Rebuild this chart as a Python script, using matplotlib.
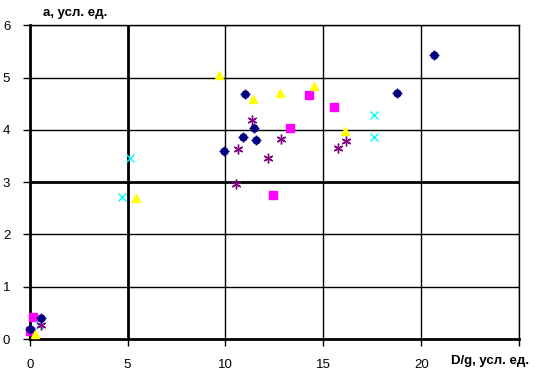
import matplotlib
matplotlib.use("Agg")
import matplotlib.pyplot as plt

plt.rcParams['font.family'] = ['Liberation Sans', 'DejaVu Sans']

# Data
navy_x = [0.02, 0.56, 9.91, 10.88, 11.02, 11.44, 11.56, 18.74, 20.63]
navy_y = [0.19, 0.41, 3.60, 3.86, 4.68, 4.03, 3.80, 4.71, 5.43]

magenta_x = [0.0, 0.15, 12.41, 13.32, 14.27, 15.54]
magenta_y = [0.15, 0.43, 2.75, 4.03, 4.66, 4.43]

yellow_x = [0.27, 5.42, 9.67, 11.41, 12.80, 14.52, 16.09]
yellow_y = [0.09, 2.70, 5.04, 4.60, 4.71, 4.84, 3.98]

cyan_x = [0.49, 4.71, 5.12, 17.58, 17.60]
cyan_y = [0.27, 2.72, 3.46, 4.28, 3.86]

purple_x = [0.58, 10.54, 10.63, 11.38, 12.16, 12.84, 15.73, 16.14]
purple_y = [0.27, 2.96, 3.63, 4.18, 3.47, 3.83, 3.65, 3.79]

x_ticks = [0, 5, 10, 15, 20, 25]
x_tick_labels = ['0', '5', '10', '15', '20', '']
y_ticks = [0, 1, 2, 3, 4, 5, 6]
y_tick_labels = ['0', '1', '2', '3', '4', '5', '6']

fig = plt.figure(figsize=(5.43, 3.86), dpi=100)
ax = fig.add_axes([0.0547, 0.1215, 0.9013, 0.813])
ax.set_xlim(0, 25)
ax.set_ylim(0, 6)

# grid
for xv in x_ticks[1:]:
    ax.axvline(xv, color='black', lw=2.0 if xv == 5 else 1.0, zorder=1)
for yv in y_ticks[1:]:
    ax.axhline(yv, color='black', lw=2.0 if yv == 3 else 1.0, zorder=1)

ax.plot(magenta_x, magenta_y, ls='none', marker='s', ms=5.2, mfc='#FF00FF', mec='#FF00FF', zorder=3, clip_on=False)
ax.plot(yellow_x, yellow_y, ls='none', marker='^', ms=6, mfc='#FFFF00', mec='#FFFF00', zorder=3, clip_on=False)
ax.plot(cyan_x, cyan_y, ls='none', marker='x', ms=6, mew=1.0, color='#00FFFF', zorder=3, clip_on=False)
ax.plot(purple_x, purple_y, ls='none', marker=(6, 2, 0), ms=7, mew=1.0, color='#800080', zorder=3, clip_on=False)
ax.plot(navy_x, navy_y, ls='none', marker='o', ms=5, mfc='#000080', mec='#000080', zorder=4, clip_on=False)
ax.plot(navy_x, navy_y, ls='none', marker='+', ms=7, mew=1.0, color='#000080', zorder=4, clip_on=False)

for s in ['left', 'bottom']:
    ax.spines[s].set_linewidth(2.0)
for s in ['top', 'right']:
    ax.spines[s].set_linewidth(1.0)

ax.set_xticks(x_ticks)
ax.set_xticklabels(x_tick_labels)
ax.set_yticks(y_ticks)
ax.set_yticklabels(y_tick_labels)
ax.tick_params(axis='both', direction='out', length=5, width=1, labelsize=9.5, colors='black')
ax.tick_params(axis='x', pad=9)
ax.tick_params(axis='y', pad=9)

fig.text(75 / 543, 1 - 13 / 386, 'a, усл. ед.', fontsize=9.5, fontweight='bold', ha='center', va='center')
fig.text(490 / 543, 1 - 361 / 386, 'D/g, усл. ед.', fontsize=9.5, fontweight='bold', ha='center', va='center')

fig.savefig('out.png', dpi=100)
